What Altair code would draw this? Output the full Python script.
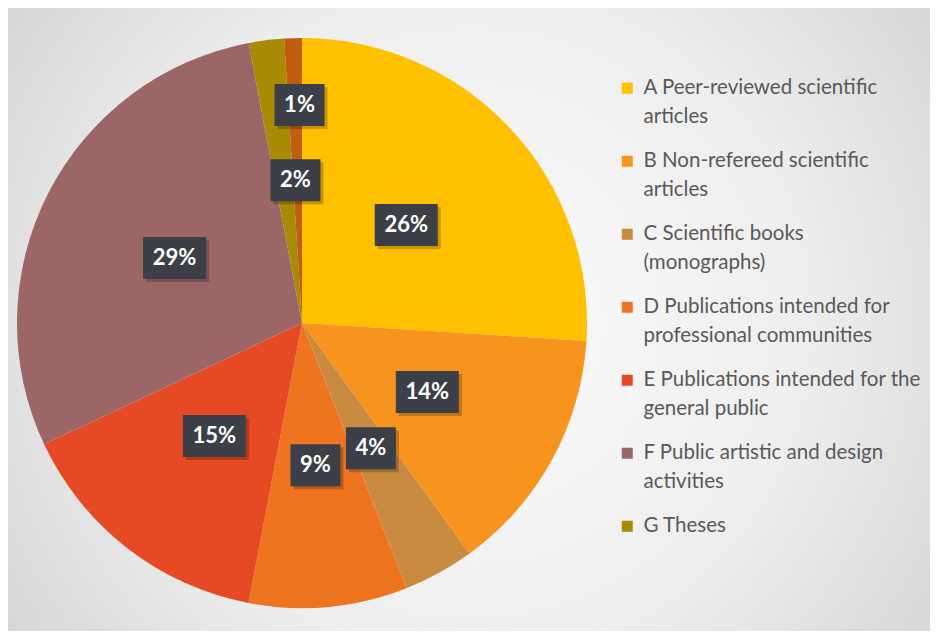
import altair as alt
import pandas as pd

cats = ["A", "B", "C", "D", "E", "F", "G", "H"]
legend_labels = [
    "A Peer-reviewed scientific\narticles",
    "B Non-refereed scientific\narticles",
    "C Scientific books\n(monographs)",
    "D Publications intended for\nprofessional communities",
    "E Publications intended for the\ngeneral public",
    "F Public artistic and design\nactivities",
    "G Theses",
    "H",
]
values = [26, 14, 4, 9, 15, 29, 2, 1]
colors = ["#FFC000", "#F7941E", "#C98B3F", "#EE7420", "#E64A24", "#9C6667", "#A88A05", "#BF5E0E"]

df = pd.DataFrame({
    "cat": cats,
    "label": legend_labels,
    "value": values,
    "idx": list(range(len(cats))),
})

W, H = 922, 623
CX, CY, R = 294, 315, 285

bg = alt.Chart(pd.DataFrame({"a": [0]})).mark_rect(
    color=alt.Gradient(
        gradient="radial",
        stops=[alt.GradientStop(color="#fbfbfb", offset=0),
               alt.GradientStop(color="#eeeeee", offset=0.5),
               alt.GradientStop(color="#cbcbcb", offset=1)],
        x1=0.5, y1=0.5, r1=0, x2=0.5, y2=0.5, r2=0.72,
    )
).encode(x=alt.value(0), x2=alt.value(W + 8), y=alt.value(0), y2=alt.value(H + 8))

base = alt.Chart(df)

pie = base.mark_arc(outerRadius=R, strokeWidth=0).encode(
    theta=alt.Theta("value:Q", stack=True),
    color=alt.Color(
        "label:N",
        scale=alt.Scale(domain=legend_labels, range=colors),
        sort=legend_labels,
        legend=alt.Legend(
            values=legend_labels[:7],
            title=None,
            orient="none",
            legendX=609,
            legendY=70,
            symbolType="square",
            symbolSize=121,
            symbolStrokeWidth=0,
            labelFont="Lato",
            labelFontSize=20.5,
            labelColor="#595959",
            labelLimit=400,
            labelOffset=6,
            labelBaseline="alphabetic",
            rowPadding=23,
            padding=0,
            labelExpr="split(datum.label, '\\n')",
        ),
    ),
    order=alt.Order("idx:Q"),
    x=alt.value(CX),
    y=alt.value(CY),
)

pos = base.transform_joinaggregate(
    total="sum(value)"
).transform_window(
    cum="sum(value)", sort=[alt.SortField("idx")], frame=[None, 0]
).transform_calculate(
    txt="datum.value + '%'",
    ang="(datum.cum - datum.value / 2) / datum.total * 2 * PI + (datum.cat == 'G' ? 0.08 : 0) + (datum.cat == 'H' ? 0.02 : 0)",
    r="datum.cat == 'H' ? 218 : 143",
).transform_calculate(
    px=f"{CX} + datum.r * sin(datum.ang)",
    py=f"{CY} - datum.r * cos(datum.ang)",
    w="length(datum.txt) == 2 ? 50 : 63",
).transform_calculate(
    bx1="datum.px - datum.w / 2",
    bx2="datum.px + datum.w / 2",
    by1="datum.py - 21",
    by2="datum.py + 21",
    sx1="datum.px - datum.w / 2 + 3",
    sx2="datum.px + datum.w / 2 + 3",
    sy1="datum.py - 21 + 3",
    sy2="datum.py + 21 + 3",
)

shadow = pos.mark_rect(color="#000000", opacity=0.22).encode(
    x=alt.X("sx1:Q", scale=None, axis=None),
    x2="sx2:Q",
    y=alt.Y("sy1:Q", scale=None, axis=None),
    y2="sy2:Q",
)

boxes = pos.mark_rect(color="#3C3F47").encode(
    x=alt.X("bx1:Q", scale=None, axis=None),
    x2="bx2:Q",
    y=alt.Y("by1:Q", scale=None, axis=None),
    y2="by2:Q",
)

texts = pos.mark_text(font="Lato", fontWeight="bold", fontSize=22, color="#FFFFFF",
                      align="center", baseline="middle").encode(
    x=alt.X("px:Q", scale=None, axis=None),
    y=alt.Y("py:Q", scale=None, axis=None),
    text="txt:N",
)

chart = alt.layer(bg, pie, shadow, boxes, texts).properties(
    width=W, height=H, padding=0,
    autosize=alt.AutoSizeParams(type="none"),
).configure_view(stroke=None).configure(
    background="#ffffff",
    style={"guide-label": {"lineHeight": 29, "dy": 6}},
)

chart.save("out.html", embed_options={"renderer": "svg", "actions": False})
